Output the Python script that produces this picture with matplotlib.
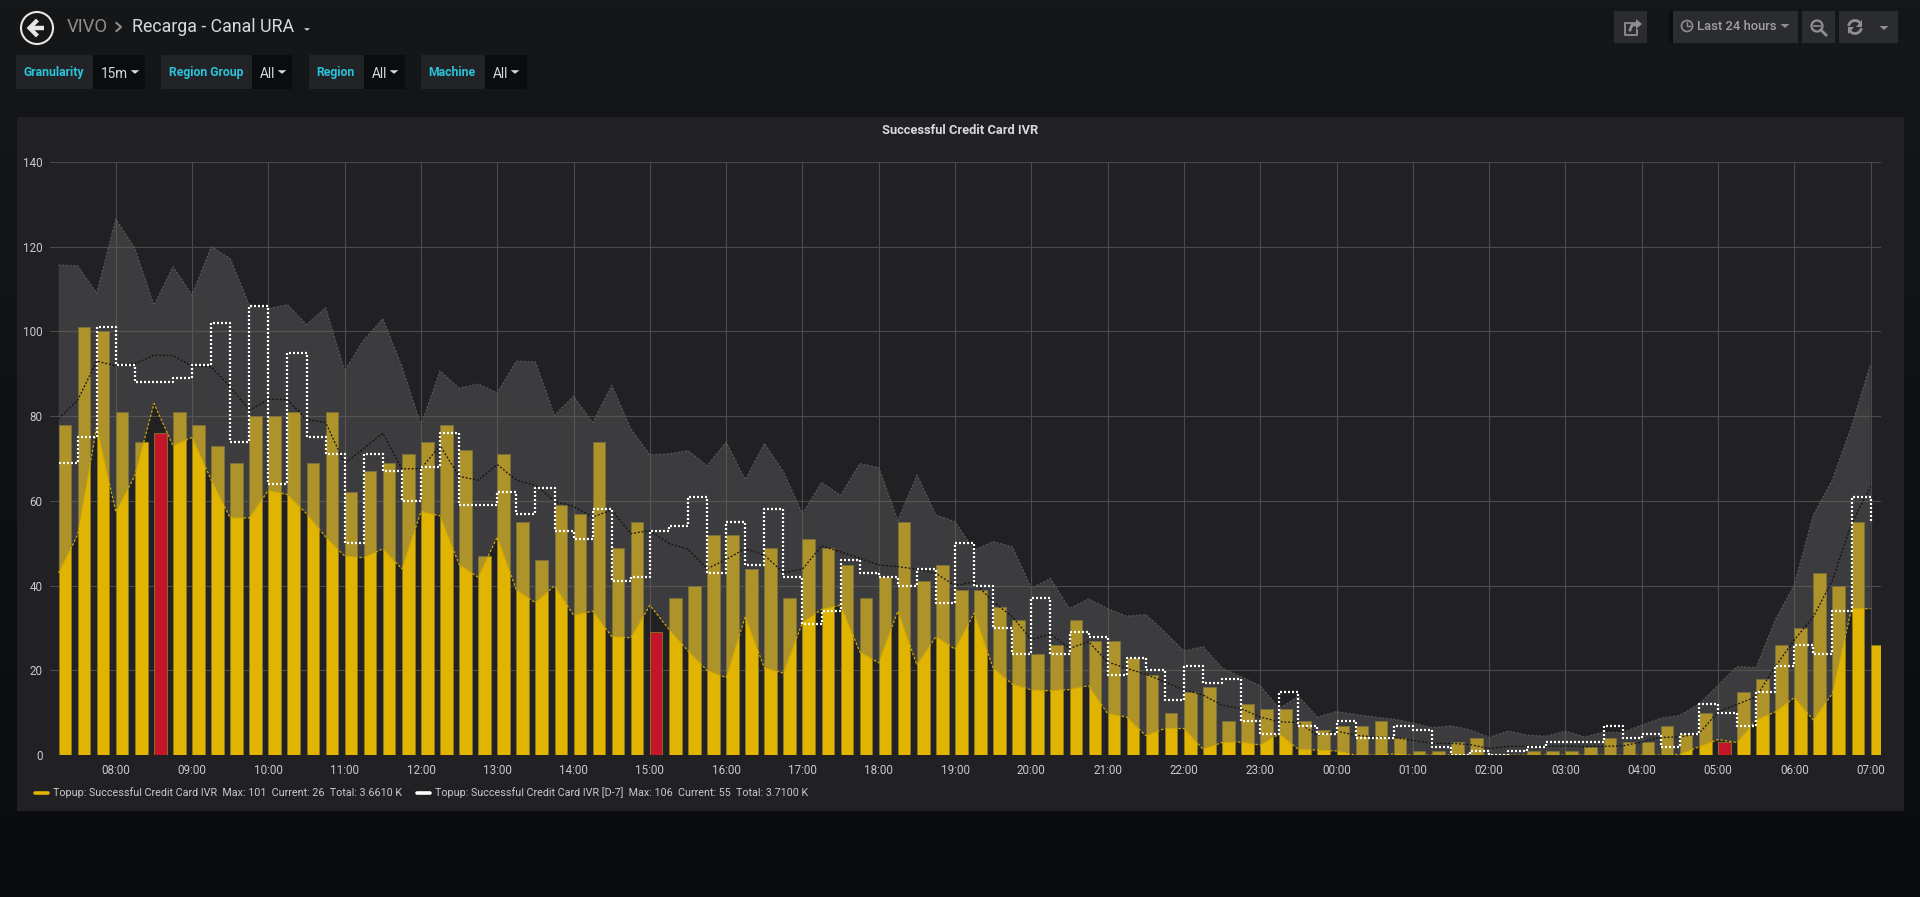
import numpy as np
import pandas as pd
import matplotlib
matplotlib.use("Agg")
import matplotlib.pyplot as plt
import matplotlib.dates as mdates
from matplotlib.lines import Line2D
from matplotlib.patches import Rectangle, Circle, Arc, Polygon

plt.rcParams['font.family'] = ['Roboto', 'DejaVu Sans']

# ---------- data ----------
topup = [78,101,100,81,74,76,81,78,73,69,80,80,81,69,81,62,67,69,71,74,78,72,47,71,55,46,59,57,74,49,55,29,
         37,40,52,52,44,49,37,51,49,45,37,42,55,41,45,39,39,35,32,24,26,32,27,27,23,19,10,15,16,8,12,11,11,
         8,6,7,7,8,4,1,1,3,4,0,0,1,1,1,2,4,3,3,7,5,10,3,15,18,26,30,43,40,55,26]
topup_d7 = [69,75,101,92,88,88,89,92,102,74,106,64,95,75,71,50,71,67,60,68,76,59,59,62,57,63,53,51,58,41,42,53,
            54,61,43,55,45,58,42,31,34,46,43,42,40,44,36,50,40,30,24,37,24,29,28,19,23,20,13,21,17,18,8,5,15,
            7,5,8,4,4,7,6,2,0,1,0,1,2,3,3,3,7,4,5,2,5,12,10,7,15,21,26,24,34,61,55]
band_upper = [115.7,115.5,109,126.5,119.6,106.2,115.3,108.6,120,117.2,106.2,105.4,106.3,101.6,105.6,90.7,98,103,
              91.7,77.9,90.7,86.6,87.6,85.5,93,92.8,80.2,84.7,78.5,87.3,77,70.9,
              71.1,71.9,68.3,73.9,65,73.6,66.9,57,64.4,61.3,68.8,67.9,55.4,66.1,56.7,55.1,48.4,50.4,49.2,39.4,
              41.7,34.6,36.9,34.6,32.8,33.2,29.1,24.6,25.6,20.6,18.5,16.4,11,
              13.9,9,10.3,9.6,9,8.5,7.6,6.5,6.9,6,4.2,5.7,4.7,4.5,5.7,4.3,5.4,5.3,7.1,8.7,9.4,12,16.5,20.9,20.7,
              31.9,40.2,56.7,65,77.6,92.3]
band_lower = [43,52,77.5,57.4,66,83,73,75,65,56,56,62.5,61.5,57,51.5,47,46.6,48.7,44,57.5,56.5,45,42,51.5,39,36,
              40,33,34,28,27.7,35.4,
              29.7,24.6,20,18.3,32.7,20.6,19.4,31.3,34.4,35.4,24.4,21.8,34,21.3,28,25,33.5,20.5,16.8,15.4,15.2,
              15.5,16.4,9.8,9,4.6,6.3,6.3,1.4,3,3.1,2.4,5,
              1.4,1.2,1,0,0,0.3,0,0,0,0,0,0,0,0,0,0,0,0,0,0,0.2,2,3.7,3,8.3,10.2,13.6,8.3,14.6,34.6,34.6]
band_mid = [79.4,83.8,93,91.9,92.4,94.4,94.3,91.8,91.7,86.9,81.4,84,83.9,79.2,78.5,68.8,72.4,76,67.6,67.6,73.1,
            65.8,64.9,68.6,64.9,63.7,60,58.7,56.2,57.9,52.3,53,
            50,48.6,44,46.2,48.8,47.2,43.1,43.9,49.4,48,46.5,44.9,44.5,43.9,42.9,40,40.9,36.2,32.7,27.3,28.6,
            25.2,26.8,22,20.5,19.1,17.3,15.4,14.2,11.8,11,9,7.9,
            7.7,4.7,5.7,4.7,4.3,4.2,3.5,2.8,2.8,2.5,1.6,2.1,2.2,2.1,2.2,2,2.1,2.2,3.1,4.2,4.3,5.1,10.2,12,13.8,
            20.9,27.2,32.7,41.3,54.7,63.4]
alert_slots = ['08:30', '15:00', '05:00']
y_ticks = [0, 20, 40, 60, 80, 100, 120, 140]

title = 'Successful Credit Card IVR'
legend_labels = ['Topup: Successful Credit Card IVR  Max: 101  Current: 26  Total: 3.6610 K',
                 'Topup: Successful Credit Card IVR [D-7]  Max: 106  Current: 55  Total: 3.7100 K']

times = pd.date_range('2019-01-01 07:15', periods=len(topup), freq='15min')

# ---------- figure ----------
W, H = 1920, 897
fig = plt.figure(figsize=(W/100, H/100), dpi=100)

bg = fig.add_axes([0, 0, 1, 1])
bg.set_xlim(0, W); bg.set_ylim(H, 0); bg.axis('off')
top, bottom = np.array([0x16,0x17,0x19])/255, np.array([0x0a,0x0b,0x0d])/255
frac = np.linspace(0, 1, 256)[:, None, None]
grad = top[None, None, :]*(1-frac) + bottom[None, None, :]*frac
bg.imshow(grad, extent=(0, W, H, 0), aspect='auto', zorder=0)
bg.set_xlim(0, W); bg.set_ylim(H, 0)

def rect(x0, y0, x1, y1, c, ec='none'):
    bg.add_patch(Rectangle((x0, y0), x1-x0, y1-y0, fc=c, ec=ec, lw=0.8, zorder=1))

def txt(x, y, s, c, size, ha='left', weight='normal'):
    bg.text(x, y, s, color=c, fontsize=size*0.72, ha=ha, va='center', weight=weight, zorder=3)

def caret(x, y, c, w=4.0, h=3.5):
    bg.add_patch(Polygon([(x-w, y-h/2), (x+w, y-h/2), (x, y+h/2)], closed=True, fc=c, ec='none', zorder=3))

# panel
rect(17, 117, 1904, 810.7, '#212124')
bg.text(960, 130, title, color='#d8d9da', fontsize=9.3, weight='bold', ha='center', va='center', zorder=3)

# header
bg.add_patch(Circle((37, 28), 16, fc='none', ec='#e6e6e6', lw=1.5, zorder=3))
bg.plot([29.5, 44], [28, 28], color='#e6e6e6', lw=3.2, solid_capstyle='butt', zorder=3)
bg.plot([36, 29.5, 36], [21.5, 28, 34.5], color='#e6e6e6', lw=3, solid_joinstyle='miter', zorder=3)
txt(67, 27, 'VIVO', '#8e8e8e', 18.5)
bg.plot([116.5, 121, 116.5], [23, 27, 31], color='#8e8e8e', lw=1.5, zorder=3)
txt(132.5, 27, 'Recarga - Canal URA', '#d8d9da', 17.8)
caret(307, 29.5, '#d8d9da', 3, 2.5)

# template variables
var_boxes = [('Granularity', '15m', 16, 93, 145, 54, 101, 135),
             ('Region Group', 'All', 161, 252, 292, 206, 260, 282),
             ('Region', 'All', 308.5, 364, 405, 335.5, 372, 394),
             ('Machine', 'All', 421, 485, 526.5, 452, 493, 515)]
for lab, val, x0, x1, x2, xc, xv, xca in var_boxes:
    rect(x0, 55, x1, 89, '#212327')
    rect(x1, 55, x2, 89, '#0b0c0e')
    txt(xc, 72.5, lab, '#2ac3d9', 12.2, ha='center', weight='bold')
    txt(xv, 73.5, val, '#d8d9da', 13.6)
    caret(xca, 72, '#d8d9da', 4.4, 3.6)

# top right buttons
for x0, x1 in [(1614, 1647), (1673, 1798), (1802, 1835), (1839, 1871), (1871, 1898)]:
    rect(x0, 11, x1, 43, '#2b2c2f')
rect(1669, 11, 1673, 43, '#0c0d0f')
txt(1697, 26.7, 'Last 24 hours', '#a0a0a0', 13, weight='medium')
grey = '#8f8f8f'
caret(1785, 26, grey, 4.5, 4)
caret(1884, 28, grey, 4.5, 4)
bg.add_patch(Circle((1687, 26), 5.5, fc='none', ec=grey, lw=1.2, zorder=3))
bg.plot([1687, 1687, 1690], [22.5, 26.5, 26.5], color=grey, lw=1, zorder=3)
bg.add_patch(Circle((1817, 26), 5.5, fc='none', ec=grey, lw=1.6, zorder=3))
bg.plot([1821, 1826], [30, 35], color=grey, lw=2, zorder=3)
bg.plot([1814, 1820], [26, 26], color=grey, lw=1.2, zorder=3)
bg.add_patch(Arc((1855, 27), 13, 13, theta1=190, theta2=330, ec=grey, lw=2, zorder=3))
bg.add_patch(Arc((1855, 27), 13, 13, theta1=10, theta2=150, ec=grey, lw=2, zorder=3))
bg.add_patch(Polygon([(1862, 20), (1862, 27), (1856, 27)], fc=grey, ec='none', zorder=3))
bg.add_patch(Polygon([(1848, 34), (1848, 27), (1854, 27)], fc=grey, ec='none', zorder=3))
bg.plot([1635, 1625, 1625, 1637, 1637], [23, 23, 35, 35, 30], color=grey, lw=1.3, zorder=3)
bg.plot([1630, 1632, 1637], [30, 25, 25], color=grey, lw=2, zorder=3)
bg.add_patch(Polygon([(1636, 19), (1642, 24), (1636, 29)], fc=grey, ec='none', zorder=3))

# ---------- chart ----------
LEFT, RIGHT, TOPY, BOTY = 49.6, 1881.0, 162.0, 755.2
ax = fig.add_axes([LEFT/W, (H-BOTY)/H, (RIGHT-LEFT)/W, (BOTY-TOPY)/H], facecolor='none')
ax.set_zorder(5)
PX_PER_DAY = 76.27*24
x_num = mdates.date2num(times)
ax.set_xlim(x_num[0]-(58.6-LEFT)/PX_PER_DAY, x_num[-1]+(RIGHT-1870.6)/PX_PER_DAY)
ax.set_ylim(0, 140)

slots = times.strftime('%H:%M')
colors = ['#C4162A' if s in alert_slots else '#E0B400' for s in slots]
ax.bar(times, topup, width=12.6/PX_PER_DAY, align='edge', color=colors,
       edgecolor='#8d7a24', linewidth=0.6, zorder=2)
ax.fill_between(times, band_lower, band_upper, facecolor='#656565', alpha=0.41, linewidth=0, zorder=3)
ax.plot(times, band_upper, color='#58585a', lw=0.9, ls=(0, (1.5, 1.5)), zorder=4)
ax.plot(times, band_lower, color='#d0a800', lw=0.9, ls=(0, (2, 1.5)), zorder=4)
ax.plot(times, band_mid, color='#0f0f10', lw=0.9, ls=(0, (1.5, 1.5)), zorder=4)
ax.step(times, topup_d7, where='post', color='#ffffff', lw=1.6, ls=(0, (0.9, 0.9)),
        dash_capstyle='butt', zorder=5)

ax.xaxis.set_major_locator(mdates.HourLocator())
ax.xaxis.set_major_formatter(mdates.DateFormatter('%H:%M'))
ax.set_yticks(y_ticks)
ax.grid(True, color='#4a4a4c', lw=0.8, zorder=1)
ax.set_axisbelow(True)
for sp in ax.spines.values():
    sp.set_visible(False)
ax.tick_params(length=0, labelcolor='#c8c9ca', labelsize=8.4)
ax.tick_params(axis='x', pad=6)
ax.tick_params(axis='y', pad=5)

handles = [Line2D([], [], color='#E0B400', lw=2.6, solid_capstyle='round'),
           Line2D([], [], color='#ffffff', lw=2.6, solid_capstyle='round')]
leg = fig.legend(handles, legend_labels, ncol=2, frameon=False, loc='center left',
                 bbox_to_anchor=(35/W, (H-793)/H), fontsize=7.75, labelcolor='#c8c9ca',
                 handlelength=1.25, handletextpad=0.45, columnspacing=1.35, borderpad=0, borderaxespad=0)

assert len(topup) == len(topup_d7) == len(band_upper) == len(band_lower) == len(band_mid) == 96
fig.savefig('out.png', dpi=100, facecolor='#161719')
